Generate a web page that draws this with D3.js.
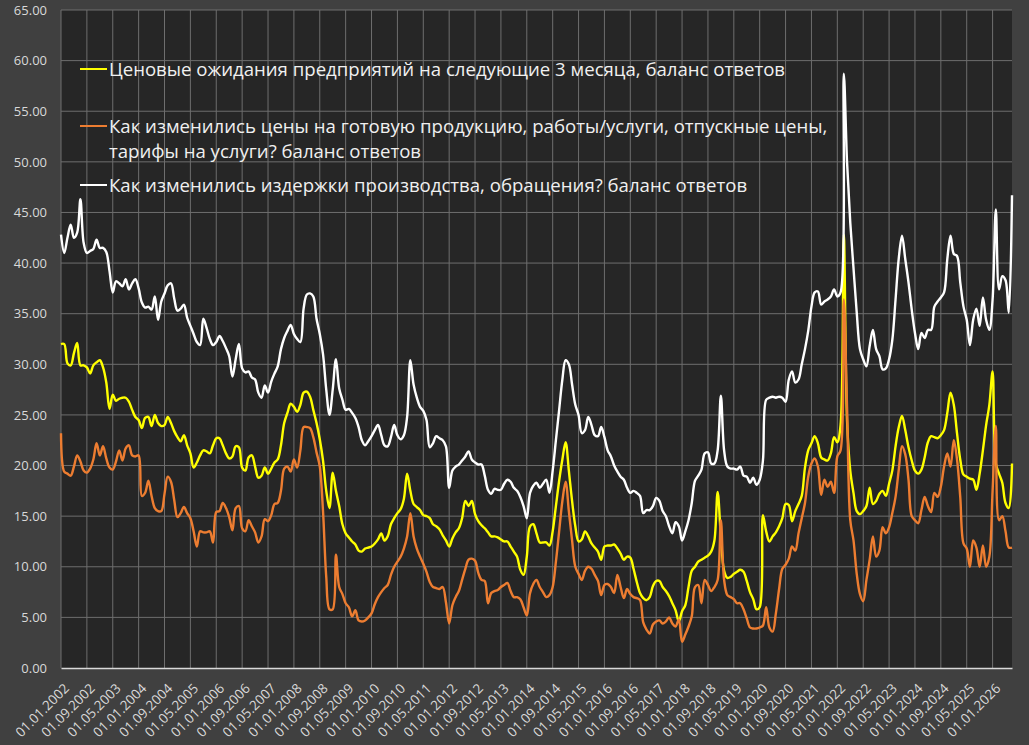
<!DOCTYPE html>
<html>
<head>
<meta charset="utf-8">
<script src="https://cdn.jsdelivr.net/npm/d3@7"></script>
<style>
  body { margin: 0; background: #404040; }
  svg { display: block; }
  text { font-family: "Open Sans", "Noto Sans", sans-serif; }
</style>
</head>
<body>
<div id="chart"></div>
<script>
// Monthly categories, 01.01.2002 .. 01.07.2026
const months = d3.timeMonth.range(new Date(2002, 0, 1), new Date(2026, 7, 1));
const categories = months.map(d3.timeFormat('%d.%m.%Y'));
// every 8th month gets a label
const xTickLabels = categories.filter((d, i) => i % 8 === 0);

const yTicks = [0, 5, 10, 15, 20, 25, 30, 35, 40, 45, 50, 55, 60, 65];

// Ценовые ожидания предприятий на следующие 3 месяца
const priceExpect = [
  32.0, 32.0, 30.1, 29.9, 31.1, 32.1, 29.9, 29.9,
  29.7, 29.1, 29.9, 30.2, 30.4, 29.7, 28.2, 25.6,
  27.0, 26.4, 26.6, 26.7, 26.7, 26.3, 25.5, 24.8,
  24.5, 23.7, 24.7, 24.8, 23.9, 25.0, 24.2, 23.9,
  24.0, 24.8, 24.2, 23.4, 22.8, 22.4, 23.0, 22.0,
  21.2, 19.8, 20.3, 21.0, 21.5, 21.4, 21.2, 22.0,
  22.7, 22.7, 22.0, 21.2, 20.7, 20.9, 21.9, 21.8,
  19.8, 19.5, 20.8, 21.0, 19.9, 18.8, 19.0, 19.8,
  19.2, 19.7, 20.3, 20.6, 22.0, 24.2, 25.2, 26.1,
  25.8, 25.3, 26.0, 27.2, 27.3, 26.8, 25.5, 24.2,
  22.6, 20.5, 17.5, 15.8, 19.3, 17.5, 16.0, 14.2,
  13.3, 12.9, 12.5, 12.2, 11.6, 11.5, 11.8, 11.9,
  12.0, 12.3, 12.7, 13.3, 12.6, 13.0, 14.2, 14.8,
  15.3, 15.7, 16.7, 19.2, 17.5, 16.2, 15.9, 15.6,
  15.1, 15.0, 14.8, 14.2, 14.0, 13.7, 13.1, 12.6,
  12.0, 12.8, 13.4, 13.8, 14.8, 16.5, 16.0, 16.5,
  15.2, 14.5, 14.1, 13.8, 13.4, 13.0, 13.0, 12.9,
  12.7, 12.5, 12.5, 12.0, 11.5, 11.0, 9.7, 9.2,
  11.0, 14.0, 14.2, 13.3, 12.4, 12.4, 12.4, 12.1,
  13.5, 16.0, 18.5, 20.6, 22.3, 19.5, 16.5, 14.0,
  12.5, 12.7, 13.5, 13.0, 12.3, 11.9, 11.5, 10.7,
  12.0, 12.1, 12.1, 12.2, 11.8, 11.3, 10.7, 11.0,
  10.9, 9.8, 8.5, 7.4, 6.9, 6.7, 7.0, 8.1,
  8.6, 8.6, 8.0, 7.6, 7.1, 6.4, 5.7, 4.6,
  5.6, 6.2, 8.0, 9.6, 10.0, 10.5, 10.7, 10.9,
  11.1, 11.5, 12.6, 17.4, 13.0, 9.6, 8.9, 9.0,
  9.3, 9.5, 9.7, 9.5, 8.6, 7.5, 6.8, 5.8,
  6.0, 15.1, 13.5, 12.5, 13.0, 13.4, 14.0, 14.8,
  16.2, 16.1, 14.5, 15.5, 16.2, 17.0, 19.8, 21.5,
  22.2, 22.9, 22.2, 20.8, 20.6, 20.5, 21.2, 22.8,
  22.3, 24.0, 42.8, 24.5, 19.5, 17.3, 15.5, 15.2,
  15.5, 16.0, 17.8, 16.2, 16.5, 17.2, 17.5, 17.0,
  18.2, 19.5, 21.9, 23.8, 24.9, 23.5, 21.8, 20.5,
  19.5, 19.2, 19.6, 20.8, 22.3, 22.9, 22.8, 22.7,
  23.0, 23.5, 25.2, 27.2, 26.0, 23.2, 20.6, 19.1,
  18.9, 18.7, 18.6, 17.6, 19.2, 21.5, 24.0, 26.0,
  29.3, 20.2, 19.2, 18.3, 16.3, 15.8, 20.2
];

// Как изменились цены на готовую продукцию ... тарифы на услуги?
const pricesChange = [
  23.2, 19.4, 19.2, 19.0, 19.9, 21.0, 20.4, 19.5,
  19.3, 19.7, 20.6, 22.2, 21.0, 21.9, 20.7, 19.8,
  19.6, 20.4, 21.5, 20.5, 21.7, 22.0, 21.0, 20.9,
  21.0, 17.0, 17.3, 18.5, 17.0, 15.8, 15.5, 15.5,
  17.2, 18.9, 18.4, 16.6, 14.9, 15.3, 15.9, 15.3,
  14.8, 13.5, 12.0, 13.5, 13.4, 13.4, 13.5, 12.4,
  15.4, 15.5, 16.3, 15.8, 14.9, 13.6, 15.8, 16.0,
  13.8, 13.5, 14.6, 14.0, 13.4, 12.4, 13.0, 14.7,
  14.5, 15.1, 16.2, 16.3, 17.5, 19.7, 19.9, 19.4,
  20.6, 19.8, 21.5, 23.8, 23.8, 23.7, 22.8, 21.3,
  19.9, 15.5, 9.0, 5.8, 5.8, 11.2, 8.0, 7.3,
  6.4, 6.0, 5.1, 5.7, 4.7, 4.6, 4.7, 5.0,
  5.4, 6.3, 7.0, 7.5, 7.9, 8.2, 9.2, 10.0,
  10.5, 11.0, 11.8, 13.0, 15.3, 13.0, 11.8, 11.0,
  10.3, 9.5, 8.5, 8.0, 7.9, 7.8, 8.0, 6.5,
  4.4, 6.2, 7.0, 7.6, 8.7, 9.8, 10.7, 10.8,
  10.6, 9.4, 8.7, 8.6, 6.4, 7.4, 7.6, 7.7,
  8.0, 8.2, 8.4, 7.6, 7.0, 7.0, 6.8, 6.0,
  5.2, 7.4, 8.3, 8.7, 8.0, 7.5, 7.0, 7.2,
  8.0, 10.5, 13.5, 16.5, 18.4, 15.5, 12.6, 10.0,
  9.3, 8.7, 9.6, 10.0, 9.8, 9.2, 8.6, 7.2,
  8.2, 8.3, 8.0, 7.4, 9.2, 8.0, 6.9, 7.8,
  7.3, 7.0, 6.9, 6.7, 4.5, 3.8, 3.4, 4.3,
  4.6, 4.7, 4.4, 4.6, 5.0, 4.4, 4.1, 4.8,
  2.6, 3.3, 4.1, 5.1, 8.0, 8.2, 6.4, 8.7,
  8.2, 7.6, 8.0, 8.7, 14.6, 8.7, 7.2, 7.0,
  6.8, 6.4, 6.4, 5.8, 4.9, 4.0, 3.9, 3.9,
  4.0, 4.2, 6.0, 4.0, 3.6, 5.4, 7.8, 9.8,
  10.2, 10.8, 12.0, 11.6, 13.3, 14.8, 16.3, 18.9,
  20.2, 20.7, 19.9, 17.1, 18.6, 17.9, 18.4, 17.3,
  20.9, 21.5, 36.4, 25.8, 14.6, 12.6, 9.3, 7.3,
  6.6, 8.7, 10.7, 13.0, 11.0, 11.6, 13.9, 13.3,
  13.9, 15.3, 16.9, 19.6, 21.9, 21.1, 18.6, 15.0,
  14.6, 14.3, 15.6, 16.9, 16.0, 15.4, 17.3, 16.9,
  17.9, 19.9, 21.2, 19.9, 22.5, 20.6, 16.9, 12.3,
  11.8, 10.0, 12.6, 11.9, 10.0, 12.1, 10.0, 11.0,
  17.5, 23.9, 14.6, 15.0, 13.5, 11.9, 11.9
];

// Как изменились издержки производства, обращения?
const costsChange = [
  42.8, 41.0, 42.5, 43.8, 42.5, 43.0, 46.3, 42.0,
  41.0, 41.2, 41.4, 42.3, 41.5, 41.5, 41.1, 39.2,
  37.1, 38.2, 38.0, 37.7, 38.4, 37.4, 38.0, 38.4,
  37.5, 36.1, 35.6, 35.7, 35.4, 36.7, 34.4, 36.2,
  37.0, 37.8, 38.0, 36.5, 35.3, 35.5, 35.9, 34.6,
  33.8, 33.0, 32.2, 31.9, 34.5, 33.6, 32.5, 31.9,
  32.2, 32.8, 32.3, 31.6, 30.8, 28.8, 30.5, 32.0,
  29.6, 29.2, 29.3, 28.7, 28.5, 27.2, 26.7, 27.9,
  27.2, 28.3, 29.1, 29.8, 31.5, 32.6, 33.3, 33.9,
  33.0, 32.5, 32.2, 35.5, 36.9, 37.0, 36.7, 34.5,
  33.0, 31.0, 27.5, 25.0, 27.5, 30.5, 27.6, 26.5,
  25.5, 25.6, 25.2, 24.7, 23.8, 22.5, 22.0, 22.4,
  22.9, 23.5, 24.0, 23.0, 22.0, 21.9, 22.8, 24.0,
  23.0, 22.6, 23.0, 24.8, 30.4, 28.0, 26.7, 25.8,
  25.4, 24.5, 21.8, 22.2, 22.9, 22.7, 22.5, 21.9,
  17.8, 19.5, 19.9, 20.1, 20.5, 20.9, 21.4, 20.6,
  20.3, 20.1, 20.1, 19.0, 17.6, 17.2, 17.7, 17.6,
  17.6, 18.2, 18.6, 18.4, 17.8, 17.5, 16.9, 16.0,
  14.8, 17.3, 18.0, 18.3, 17.8, 18.2, 18.6, 17.3,
  19.5, 22.5, 25.5, 28.5, 30.4, 30.0, 28.0, 26.0,
  25.0, 23.2, 23.5, 24.8, 24.0, 23.0, 22.9, 23.8,
  22.8, 21.5, 20.9, 20.0, 19.4, 18.9, 18.6, 17.8,
  17.3, 17.5, 17.3, 17.0, 15.3, 15.6, 15.6, 16.0,
  16.8, 16.5, 15.5, 15.0, 14.0, 13.3, 14.4, 14.0,
  12.6, 13.5, 14.6, 16.3, 18.5, 19.0, 19.6, 21.2,
  21.3, 20.2, 20.2, 21.5, 26.9, 21.5, 19.9, 19.7,
  19.7, 19.6, 19.9, 19.0, 18.9, 18.3, 18.8, 18.1,
  18.6, 20.5, 26.5, 26.7, 26.8, 26.7, 26.8, 26.7,
  26.3, 28.5, 29.3, 28.2, 28.5, 30.0, 31.5, 33.3,
  35.7, 37.1, 37.2, 35.9, 36.2, 36.4, 36.7, 37.4,
  36.7, 37.1, 58.7, 50.0, 44.0, 39.5, 35.1, 31.5,
  30.5, 29.8, 31.8, 33.4, 31.5, 30.8, 29.5, 29.6,
  30.5, 32.4, 36.4, 40.5, 42.7, 40.4, 38.1, 35.4,
  33.1, 31.5, 33.1, 32.6, 33.4, 33.4, 35.7, 36.2,
  36.6, 37.1, 40.4, 42.7, 40.9, 40.7, 38.1, 35.7,
  34.4, 31.9, 34.4, 35.5, 33.8, 36.6, 34.4, 33.4,
  36.4, 45.3, 37.4, 38.7, 38.3, 35.1, 46.7
];

const seriesList = [
  {values: priceExpect, color: '#ffff00',
   label: ['Ценовые ожидания предприятий на следующие 3 месяца, баланс ответов']},
  {values: pricesChange, color: '#ed7d31',
   label: ['Как изменились цены на готовую продукцию, работы/услуги, отпускные цены,',
           'тарифы на услуги? баланс ответов']},
  {values: costsChange, color: '#ffffff',
   label: ['Как изменились издержки производства, обращения? баланс ответов']}
];

const W = 1029, H = 745;
const margin = {top: 10, right: 17, bottom: 77, left: 61};
const width = W - margin.left - margin.right;
const height = H - margin.top - margin.bottom;

const svg = d3.select('#chart').append('svg')
  .attr('width', W).attr('height', H);

svg.append('rect').attr('width', W).attr('height', H).attr('fill', '#404040');

const g = svg.append('g').attr('transform', `translate(${margin.left},${margin.top})`);

g.append('rect').attr('width', width).attr('height', height).attr('fill', '#262626');

const x = d3.scalePoint().domain(categories).range([0, width]);
const y = d3.scaleLinear().domain([0, 65]).range([height, 0]);

// horizontal gridlines
g.append('g')
  .selectAll('line')
  .data(yTicks.slice(1))
  .join('line')
  .attr('x1', 0).attr('x2', width)
  .attr('y1', d => y(d)).attr('y2', d => y(d))
  .attr('stroke', '#6e6e6e').attr('stroke-width', 1);

// vertical gridlines
g.append('g')
  .selectAll('line')
  .data(xTickLabels)
  .join('line')
  .attr('x1', d => x(d)).attr('x2', d => x(d))
  .attr('y1', 0).attr('y2', height)
  .attr('stroke', '#6e6e6e').attr('stroke-width', 1);

// y axis
const yAxis = g.append('g')
  .call(d3.axisLeft(y).tickValues(yTicks).tickFormat(d3.format('.2f')).tickSize(0).tickPadding(14));
yAxis.select('.domain').remove();
yAxis.selectAll('text').attr('fill', '#d9d9d9').style('font-size', '13px');

// x axis
const xAxis = g.append('g')
  .attr('transform', `translate(0,${height})`)
  .call(d3.axisBottom(x).tickValues(xTickLabels).tickSize(0));
xAxis.select('.domain').attr('stroke', '#d9d9d9').attr('stroke-width', 1.3);
xAxis.selectAll('text')
  .attr('fill', '#d9d9d9')
  .style('font-size', '13.5px')
  .attr('text-anchor', 'end')
  .attr('x', 0).attr('y', 0).attr('dy', '0.35em')
  .attr('transform', 'translate(5,18) rotate(-45)');

// series
const line = d3.line()
  .x((d, i) => x(categories[i]))
  .y(d => y(d))
  .curve(d3.curveCatmullRom.alpha(0.5));

seriesList.forEach(s => {
  g.append('path')
    .datum(s.values)
    .attr('fill', 'none')
    .attr('stroke', s.color)
    .attr('stroke-width', 2.4)
    .attr('stroke-linejoin', 'round')
    .attr('d', line);
});

// legend
const legendRows = [59, 116, 175];
const legend = g.append('g');
seriesList.forEach((s, k) => {
  const ly = legendRows[k];
  legend.append('line')
    .attr('x1', 19).attr('x2', 46)
    .attr('y1', ly).attr('y2', ly)
    .attr('stroke', s.color).attr('stroke-width', 2);
  s.label.forEach((t, j) => {
    legend.append('text')
      .attr('x', 48).attr('y', ly + j * 25)
      .attr('dy', '0.35em')
      .attr('fill', '#f0f0f0')
      .style('font-size', '18.6px')
      .text(t);
  });
});
</script>
</body>
</html>
